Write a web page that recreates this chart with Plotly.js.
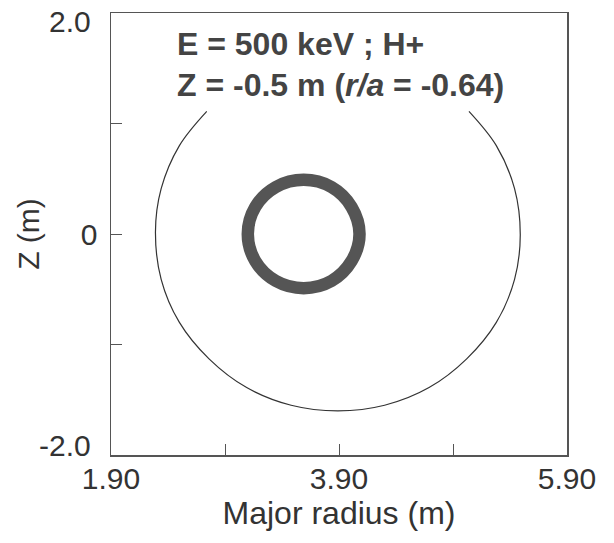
<!DOCTYPE html>
<html>
<head>
<meta charset="utf-8">
<script src="https://cdn.plot.ly/plotly-3.0.1.min.js"></script>
<style>html,body{margin:0;padding:0;background:#fff;}#chart{width:614px;height:543px;}</style>
</head>
<body>
<div id="chart"></div>
<script>
// Plasma boundary (outer contour); gap at top under the label
const boundaryR = [2.74, 2.50, 2.34, 2.29, 2.34, 2.50, 2.76, 3.09, 3.48, 3.89, 4.30, 4.69, 5.02, 5.28, 5.44, 5.49, 5.44, 5.28, 5.04];
const boundaryZ = [1.11, 0.80, 0.41, 0.02, -0.41, -0.80, -1.13, -1.39, -1.55, -1.60, -1.55, -1.39, -1.13, -0.80, -0.41, -0.01, 0.41, 0.80, 1.11];

// Fast-ion orbit (thick ring)
const orbitR = [4.08, 4.01, 3.835, 3.59, 3.345, 3.166, 3.10, 3.166, 3.345, 3.59, 3.835, 4.01, 4.08];
const orbitZ = [0.00, 0.245, 0.424, 0.49, 0.424, 0.245, 0.00, -0.245, -0.424, -0.49, -0.424, -0.245, 0.00];

const xTickVals = [1.9, 2.9, 3.9, 4.9, 5.9];
const xTickText = ['1.90', '', '3.90', '', '5.90'];
const yTickVals = [-2, -1, 0, 1, 2];
const yTickText = ['', '', '0', '', ''];
// end labels of the Z axis sit slightly inward in the reference
const yEndVals = [-2, 2];
const yEndText = ['-2.0', '2.0'];

const FONT = 'Liberation Sans, Arial, Helvetica, sans-serif';

const traces = [
  {x: boundaryR, y: boundaryZ, mode: 'lines', line: {color: '#333', width: 1.2, shape: 'spline'}, hoverinfo: 'skip', showlegend: false},
  {x: orbitR, y: orbitZ, mode: 'lines', line: {color: '#555', width: 12.5, shape: 'spline'}, hoverinfo: 'skip', showlegend: false}
];

const axisCommon = {
  showgrid: false, zeroline: false, showline: true, mirror: true,
  linecolor: '#555', linewidth: 1.5,
  ticks: 'inside', ticklen: 11, tickwidth: 1, tickcolor: '#555',
  tickfont: {family: FONT, size: 30, color: '#333'},
  tickmode: 'array',
  ticklabeloverflow: 'allow'
};

const annotations = [
  {xref: 'paper', yref: 'paper', x: 0.14, y: 0.93, xanchor: 'left', yanchor: 'middle', showarrow: false,
   text: '<b>E = 500 keV ; H+</b>', font: {family: FONT, size: 32, color: '#444'}},
  {xref: 'paper', yref: 'paper', x: 0.14, y: 0.836, xanchor: 'left', yanchor: 'middle', showarrow: false,
   text: '<b>Z = -0.5 m (<i>r/a</i> = -0.64)</b>', font: {family: FONT, size: 32, color: '#444'}}
];
yEndVals.forEach((v, i) => {
  annotations.push({xref: 'paper', yref: 'y', x: 0, y: v, xanchor: 'right', yanchor: 'middle',
    xshift: -18, yshift: v > 0 ? -8 : 10, showarrow: false,
    text: yEndText[i], font: {family: FONT, size: 30, color: '#333'}});
});

const layout = {
  width: 614, height: 543,
  margin: {l: 111, r: 47, t: 13, b: 88},
  paper_bgcolor: '#fff', plot_bgcolor: '#fff',
  xaxis: Object.assign({}, axisCommon, {
    range: [1.9, 5.9], tickvals: xTickVals, ticktext: xTickText,
    ticklabelstandoff: -4,
    title: {text: 'Major radius (m)', font: {family: FONT, size: 32, color: '#333'}, standoff: 8}
  }),
  yaxis: Object.assign({}, axisCommon, {
    range: [-2, 2], tickvals: yTickVals, ticktext: yTickText,
    ticklabelstandoff: 6,
    title: {text: 'Z (m)', font: {family: FONT, size: 30, color: '#333'}, standoff: 32}
  }),
  annotations: annotations
};

Plotly.newPlot('chart', traces, layout, {staticPlot: true, displayModeBar: false});
</script>
</body>
</html>
